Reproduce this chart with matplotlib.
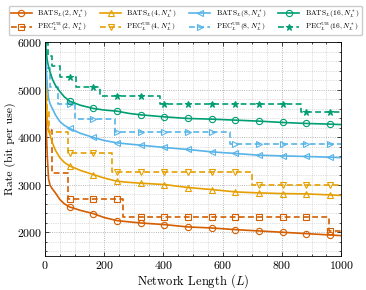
import matplotlib
matplotlib.use("Agg")
import matplotlib.pyplot as plt
from matplotlib.ticker import MultipleLocator

plt.rcParams.update({
    "font.family": "serif",
    "font.serif": ["cmr10"],
    "mathtext.fontset": "cm",
    "axes.formatter.use_mathtext": True,
    "axes.unicode_minus": False,
})

# marker positions (network length L)
MARK_L = [83, 163, 243, 323, 403, 483, 563, 643, 723, 803, 883, 963]

# BATS curves (solid)
bats_L = [1, 2, 4, 8, 12, 17, 25, 35, 50, 65, 83, 120, 163, 200, 243, 283, 323,
          403, 483, 563, 643, 723, 803, 883, 963, 1000]
bats_2 = [6000, 5000, 4200, 3550, 3120, 2990, 2910, 2830, 2690, 2600, 2533, 2460,
          2393, 2310, 2246, 2220, 2196, 2162, 2112, 2091, 2056, 2028, 2000, 1972,
          1943, 1930]
bats_4 = [6000, 5400, 4800, 4350, 4150, 4040, 3880, 3726, 3570, 3470, 3396, 3300,
          3214, 3140, 3074, 3050, 3032, 3004, 2941, 2899, 2849, 2828, 2814, 2807,
          2786, 2775]
bats_8 = [6000, 5750, 5450, 5050, 4820, 4700, 4600, 4470, 4330, 4250, 4183, 4080,
          3994, 3930, 3881, 3855, 3832, 3783, 3741, 3691, 3657, 3621, 3606, 3594,
          3579, 3570]
bats_16 = [6000, 5950, 5800, 5600, 5480, 5370, 5220, 5090, 4960, 4850, 4758, 4670,
           4604, 4570, 4547, 4500, 4470, 4427, 4393, 4379, 4358, 4337, 4309, 4288,
           4274, 4265]

# PEC upper bounds (dashed, step-shaped)
pec2_L = [1, 2, 5, 23, 79, 83, 163, 243, 265, 323, 403, 483, 563, 643, 723, 803,
          883, 958, 963, 1000]
pec2 = [5000, 4600, 4150, 3240, 2700, 2700, 2700, 2700, 2315, 2315, 2315, 2315,
        2315, 2315, 2315, 2315, 2315, 2030, 2030, 2030]
pec4_L = [1, 3, 8, 15, 78, 83, 163, 226, 243, 323, 403, 483, 563, 643, 700, 723,
          803, 883, 963, 1000]
pec4 = [6000, 5000, 4570, 4110, 3657, 3657, 3657, 3275, 3275, 3275, 3275, 3275,
        3275, 3275, 3000, 3000, 3000, 3000, 3000, 3000]
pec8_L = [1, 4, 18, 45, 83, 102, 163, 238, 243, 323, 403, 483, 563, 625, 643, 723,
          803, 883, 963, 1000]
pec8 = [6000, 5450, 5050, 4700, 4700, 4372, 4372, 4099, 4099, 4099, 4099, 4099,
        4099, 3846, 3846, 3846, 3846, 3846, 3846, 3846]
pec16_L = [1, 11, 23, 51, 83, 104, 163, 186, 243, 323, 390, 403, 483, 563, 643,
           723, 803, 864, 883, 963, 1000]
pec16 = [5970, 5710, 5495, 5255, 5255, 5050, 5050, 4863, 4863, 4863, 4695, 4695,
         4695, 4695, 4695, 4695, 4695, 4533, 4533, 4533, 4533]

colors = ["#D55E00", "#E69F00", "#56B4E9", "#009E73"]
ks = ["2", "4", "8", "16"]
bats_all = [bats_2, bats_4, bats_8, bats_16]
pec_all = [(pec2_L, pec2), (pec4_L, pec4), (pec8_L, pec8), (pec16_L, pec16)]
bats_mk = ["o", "^", "<", "o"]
pec_mk = ["s", "v", ">", "*"]


def mark_idx(L):
    return [i for i, l in enumerate(L) if l in MARK_L]


fig = plt.figure(figsize=(3.66, 2.90), dpi=100)
ax = fig.add_axes([0.123, 0.117, 0.809, 0.738])

for c, k, yb, (pl, py), mb, mp in zip(colors, ks, bats_all, pec_all, bats_mk, pec_mk):
    ax.plot(bats_L, yb, color=c, lw=1.2, marker=mb, ms=4.5, mfc="none", mew=0.8,
            markevery=mark_idx(bats_L),
            label=r"$\mathrm{BATS}_L(%s, N_L^*)$" % k)
    ax.plot(pl, py, color=c, lw=1.2, ls=(0, (3.5, 2)), drawstyle="steps-post",
            marker=mp, ms=5 if mp == "*" else 4.5,
            mfc=c if mp == "*" else "none", mew=0.8, markevery=mark_idx(pl),
            label=r"$\mathrm{PEC}_L^{\mathrm{UB}}(%s, N_L^*)$" % k)

ax.set_xlim(0, 1000)
ax.set_ylim(1500, 6000)
ax.xaxis.set_major_locator(MultipleLocator(200))
ax.xaxis.set_minor_locator(MultipleLocator(50))
ax.yaxis.set_major_locator(MultipleLocator(1000))
ax.yaxis.set_minor_locator(MultipleLocator(200))
ax.grid(which="major", color="#a0a0a0", lw=0.6, ls=":")
ax.grid(which="minor", color="#c0c0c0", lw=0.5, ls=":")
ax.set_axisbelow(True)
ax.tick_params(which="both", direction="in", top=True, right=True, labelsize=8.5,
               width=0.5, pad=2)
ax.tick_params(which="major", length=3)
ax.tick_params(which="minor", length=1.5)
for s in ax.spines.values():
    s.set_linewidth(0.6)

ax.set_xlabel(r"Network Length ($L$)", fontsize=9, labelpad=1)
ax.set_ylabel("Rate (bit per use)", fontsize=8.5, labelpad=1)

fig.legend(loc="upper center", bbox_to_anchor=(0.506, 0.993), ncol=4, fontsize=5.4,
           frameon=True, fancybox=True, edgecolor="#cccccc", framealpha=1,
           handlelength=2.8, columnspacing=1.6, handletextpad=0.7,
           borderpad=0.3, labelspacing=0.15)

fig.savefig("out.png", dpi=100)
